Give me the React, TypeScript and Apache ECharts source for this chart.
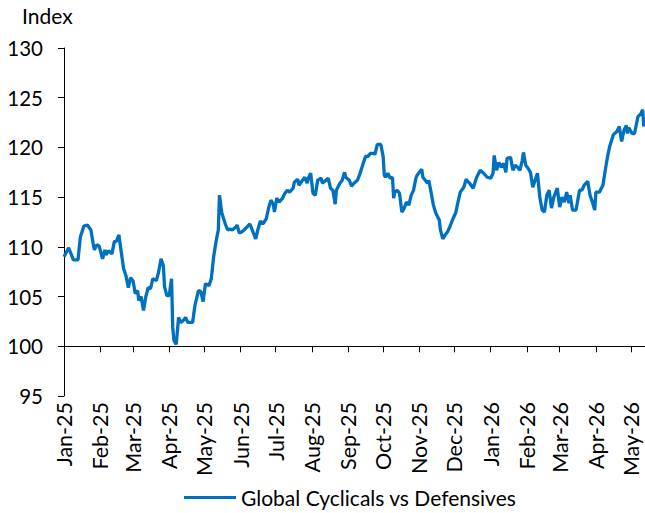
import React, { useEffect, useRef } from "react";
import * as echarts from "echarts";

const seriesName = "Global Cyclicals vs Defensives";
const yAxisTitle = "Index";
const monthNames = ["Jan","Feb","Mar","Apr","May","Jun","Jul","Aug","Sep","Oct","Nov","Dec"];

const dates2025H1 = [
  "2025-01-01","2025-01-05","2025-01-09","2025-01-13","2025-01-15","2025-01-18","2025-01-21","2025-01-24","2025-01-26","2025-01-27",
  "2025-01-29","2025-01-31","2025-02-03","2025-02-05","2025-02-06","2025-02-08","2025-02-11","2025-02-13","2025-02-15","2025-02-17",
  "2025-02-18","2025-02-21","2025-02-23","2025-02-25","2025-02-27","2025-03-01","2025-03-03","2025-03-05","2025-03-06","2025-03-08",
  "2025-03-10","2025-03-12","2025-03-14","2025-03-16","2025-03-18","2025-03-21","2025-03-23","2025-03-25","2025-03-27","2025-03-28",
  "2025-03-30","2025-04-01","2025-04-03","2025-04-04","2025-04-05","2025-04-07","2025-04-09","2025-04-11","2025-04-13","2025-04-15",
  "2025-04-17","2025-04-21","2025-04-23","2025-04-26","2025-04-28","2025-04-30","2025-05-02","2025-05-05","2025-05-07","2025-05-09",
  "2025-05-11","2025-05-13","2025-05-14","2025-05-16","2025-05-19","2025-05-21","2025-05-23","2025-05-25","2025-05-28","2025-05-29",
  "2025-05-31","2025-06-02","2025-06-05","2025-06-09","2025-06-11","2025-06-14","2025-06-16","2025-06-18","2025-06-20","2025-06-23",
  "2025-06-25","2025-06-27","2025-06-29","2025-06-30"
];
const values2025H1 = [
  109.0,109.9,108.7,108.7,111.0,112.1,112.2,111.7,110.3,109.7,
  110.2,110.1,108.8,109.7,109.2,109.6,109.3,110.5,110.6,111.2,
  110.3,107.8,107.1,105.9,106.9,106.6,105.3,105.6,104.6,105.0,
  103.6,105.0,105.9,105.8,106.8,106.6,107.5,108.8,108.1,106.0,
  105.1,105.1,106.8,101.9,100.6,100.2,102.9,102.4,102.6,102.9,
  102.4,102.4,104.1,105.6,105.5,104.5,106.3,106.1,106.8,109.0,
  110.5,111.7,115.2,113.4,112.3,111.7,111.8,111.7,112.0,112.2,
  111.4,111.5,111.8,112.3,111.7,110.8,111.8,112.6,112.3,112.8,
  113.9,114.7,114.3,113.5
];

const dates2025H2 = [
  "2025-07-02","2025-07-04","2025-07-07","2025-07-09","2025-07-11","2025-07-13","2025-07-16","2025-07-17","2025-07-20","2025-07-21",
  "2025-07-24","2025-07-26","2025-07-28","2025-07-29","2025-07-31","2025-08-02","2025-08-04","2025-08-06","2025-08-09","2025-08-10",
  "2025-08-13","2025-08-15","2025-08-17","2025-08-19","2025-08-21","2025-08-22","2025-08-25","2025-08-27","2025-08-29","2025-08-30",
  "2025-09-02","2025-09-04","2025-09-06","2025-09-09","2025-09-11","2025-09-14","2025-09-16","2025-09-18","2025-09-20","2025-09-23",
  "2025-09-24","2025-09-26","2025-09-29","2025-10-01","2025-10-02","2025-10-03","2025-10-05","2025-10-07","2025-10-09","2025-10-10",
  "2025-10-11","2025-10-13","2025-10-15","2025-10-17","2025-10-19","2025-10-21","2025-10-23","2025-10-25","2025-10-27","2025-10-29",
  "2025-10-30","2025-11-01","2025-11-03","2025-11-04","2025-11-06","2025-11-08","2025-11-09","2025-11-11","2025-11-13","2025-11-15",
  "2025-11-18","2025-11-19","2025-11-21","2025-11-23","2025-11-25","2025-11-27","2025-11-30","2025-12-02","2025-12-04","2025-12-06",
  "2025-12-09","2025-12-11","2025-12-13","2025-12-14","2025-12-17","2025-12-20","2025-12-23","2025-12-26","2025-12-29"
];
const values2025H2 = [
  114.9,114.5,114.9,115.4,115.7,115.5,115.9,116.5,116.8,116.2,
  116.7,117.0,116.4,116.9,117.4,115.4,115.2,116.7,116.9,116.4,
  116.7,116.9,115.9,115.7,114.3,115.7,116.4,116.7,117.5,117.0,
  116.7,116.1,116.4,116.7,117.3,118.4,119.1,119.1,119.4,119.4,
  119.3,120.3,120.3,119.1,117.2,117.0,117.4,116.9,117.0,114.9,
  115.5,115.7,115.4,113.5,113.9,114.5,114.2,115.2,115.7,116.9,
  117.2,117.5,117.8,117.0,116.7,116.4,116.7,115.5,114.2,113.4,
  112.7,111.7,110.8,111.2,111.5,112.0,112.9,113.4,114.5,115.5,
  116.0,116.8,116.5,116.4,115.9,117.0,117.7,117.4,117.0
];

const dates2026 = [
  "2026-01-01","2026-01-03","2026-01-04","2026-01-06","2026-01-08","2026-01-10","2026-01-12","2026-01-14","2026-01-15","2026-01-18",
  "2026-01-20","2026-01-22","2026-01-24","2026-01-26","2026-01-28","2026-01-29","2026-01-31","2026-02-02","2026-02-04","2026-02-06",
  "2026-02-08","2026-02-10","2026-02-12","2026-02-14","2026-02-16","2026-02-18","2026-02-20","2026-02-22","2026-02-24","2026-02-27",
  "2026-03-01","2026-03-03","2026-03-05","2026-03-07","2026-03-09","2026-03-10","2026-03-12","2026-03-15","2026-03-18","2026-03-20",
  "2026-03-22","2026-03-25","2026-03-27","2026-03-29","2026-03-31","2026-04-01","2026-04-04","2026-04-07","2026-04-09","2026-04-11",
  "2026-04-13","2026-04-16","2026-04-19","2026-04-21","2026-04-23","2026-04-25","2026-04-27","2026-04-28","2026-04-29","2026-05-02",
  "2026-05-04","2026-05-07","2026-05-09","2026-05-11","2026-05-12"
];
const values2026 = [
  116.9,117.4,119.2,117.7,118.5,118.0,118.4,117.5,118.9,119.0,
  117.7,118.2,118.0,117.7,118.7,119.5,118.2,117.9,117.5,116.0,
  116.7,117.4,115.0,113.7,113.5,115.2,115.7,113.9,115.0,115.9,
  114.0,115.0,114.5,115.5,114.4,115.2,113.7,113.7,115.7,115.7,
  116.2,116.6,115.2,114.5,113.7,115.5,115.5,116.2,117.7,119.1,
  120.2,121.3,121.6,122.1,120.6,121.7,122.2,121.4,122.0,121.4,
  121.4,123.1,123.3,123.8,122.1
];

const yMin = 95;
const yMax = 130;
const yStep = 5;
const xStart = "2025-01-01";
const xEnd = "2026-05-13";
const crossValue = 100;

const BLUE = "#0070C0";
const FONT = "Lato";

export default function App() {
  const ref = useRef<HTMLDivElement>(null);

  useEffect(() => {
    if (!ref.current) return;
    const chart = echarts.init(ref.current, null, { renderer: "svg" });
    const allDates = [...dates2025H1, ...dates2025H2, ...dates2026];
    const allValues = [...values2025H1, ...values2025H2, ...values2026];
    const data = allDates.map((d, i) => [d, allValues[i]]);

    const fmt = (val: number) => {
      const d = new Date(val);
      return monthNames[d.getMonth()] + "-" + String(d.getFullYear()).slice(2);
    };
    const DAY = 24 * 3600 * 1000;

    const gridTop = 48;
    const gridBottom = 117;
    const plotH = 513 - gridTop - gridBottom;
    const crossOffset = -((crossValue - yMin) / (yMax - yMin)) * plotH;

    chart.setOption({
      animation: false,
      backgroundColor: "#ffffff",
      textStyle: { fontFamily: FONT },
      grid: { left: 64, right: 0, top: gridTop, bottom: gridBottom },
      graphic: [
        {
          type: "text",
          left: 22,
          top: 5,
          style: { text: yAxisTitle, fontSize: 21, fontFamily: FONT, fill: "#000" },
        },
      ],
      legend: {
        bottom: 0,
        left: 179,
        itemWidth: 52,
        itemHeight: 3,
        icon: "rect",
        itemGap: 5,
        textStyle: { fontSize: 21, fontFamily: FONT, color: "#000", padding: [0, 0, 0, 0] },
        data: [seriesName],
      },
      xAxis: [
        {
          type: "time",
          min: xStart,
          max: xEnd,
          position: "bottom",
          minInterval: 28 * DAY,
          maxInterval: 31 * DAY,
          splitNumber: 17,
          axisLine: { show: false },
          axisTick: { show: false },
          splitLine: { show: false },
          axisLabel: {
            rotate: 90,
            margin: 6,
            fontSize: 21.5,
            fontFamily: FONT,
            color: "#000",
            formatter: fmt,
            showMinLabel: true,
            showMaxLabel: false,
            hideOverlap: false,
          },
        },
        {
          type: "time",
          min: xStart,
          max: xEnd,
          position: "bottom",
          offset: crossOffset,
          minInterval: 28 * DAY,
          maxInterval: 31 * DAY,
          splitNumber: 17,
          axisLine: { show: true, onZero: false, lineStyle: { color: "#000", width: 1 } },
          axisTick: { show: true, inside: false, length: 6, lineStyle: { color: "#000" } },
          splitLine: { show: false },
          axisLabel: { show: false },
        },
      ],
      yAxis: {
        type: "value",
        min: yMin,
        max: yMax,
        interval: yStep,
        axisLine: { show: true, lineStyle: { color: "#000", width: 1 } },
        axisTick: { show: true, inside: false, length: 6, lineStyle: { color: "#000" } },
        splitLine: { show: false },
        axisLabel: { margin: 21, fontSize: 20.5, fontFamily: FONT, color: "#000" },
      },
      series: [
        {
          name: seriesName,
          type: "line",
          xAxisIndex: 0,
          data,
          showSymbol: false,
          symbol: "none",
          lineStyle: { color: BLUE, width: 3.3 },
          itemStyle: { color: BLUE },
          clip: true,
        },
      ],
    });

    return () => chart.dispose();
  }, []);

  return <div ref={ref} style={{ width: 645, height: 513, position: "absolute", left: 0, top: 0 }} />;
}
